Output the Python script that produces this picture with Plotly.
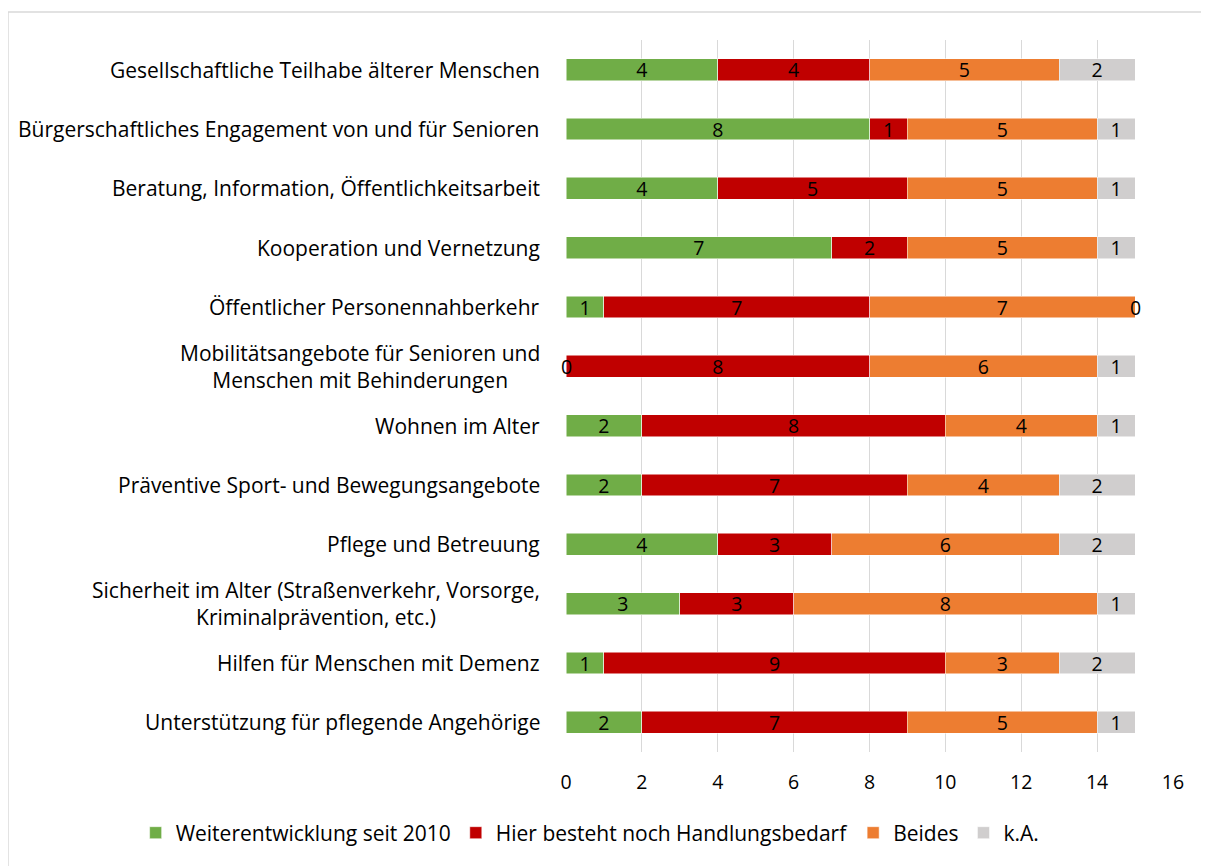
import plotly.graph_objects as go

categories = [
    "Gesellschaftliche Teilhabe älterer Menschen",
    "Bürgerschaftliches Engagement von und für Senioren",
    "Beratung, Information, Öffentlichkeitsarbeit",
    "Kooperation und Vernetzung",
    "Öffentlicher Personennahberkehr",
    "Mobilitätsangebote für Senioren und<br>Menschen mit Behinderungen",
    "Wohnen im Alter",
    "Präventive Sport- und Bewegungsangebote",
    "Pflege und Betreuung",
    "Sicherheit im Alter (Straßenverkehr, Vorsorge,<br>Kriminalprävention, etc.)",
    "Hilfen für Menschen mit Demenz",
    "Unterstützung für pflegende Angehörige",
]
weiterentwicklung = [4, 8, 4, 7, 1, 0, 2, 2, 4, 3, 1, 2]
handlungsbedarf = [4, 1, 5, 2, 7, 8, 8, 7, 3, 3, 9, 7]
beides = [5, 5, 5, 5, 7, 6, 4, 4, 6, 8, 3, 5]
ka = [2, 1, 1, 1, 0, 1, 1, 2, 2, 1, 2, 1]

series = [
    ("Weiterentwicklung seit 2010", weiterentwicklung, "#70ad47"),
    ("Hier besteht noch Handlungsbedarf", handlungsbedarf, "#c00000"),
    ("Beides", beides, "#ed7d31"),
    ("k.A.", ka, "#d0cece"),
]

FONT = "Open Sans"
FS_NUM = 19.5
FS_TXT = 21

ykeys = list(range(len(categories)))

fig = go.Figure()
for name, vals, color in series:
    fig.add_trace(go.Bar(
        y=ykeys, x=vals, name=name, orientation="h",
        marker=dict(color=color, line=dict(color="white", width=0.5)),
        text=[str(v) if v else "" for v in vals],
        textposition="inside", insidetextanchor="middle",
        textangle=0, constraintext="none",
        insidetextfont=dict(color="black", size=FS_NUM, family=FONT),
    ))

annotations = []
# zero-value labels placed at segment position
cum = [0] * len(categories)
for name, vals, color in series:
    for i, v in enumerate(vals):
        if v == 0:
            annotations.append(dict(x=cum[i], y=ykeys[i], xref="x", yref="y",
                                    text="0", showarrow=False,
                                    font=dict(color="black", size=FS_NUM, family=FONT)))
        cum[i] += v

# category labels (centered multi-line)
for i, c in enumerate(categories):
    annotations.append(dict(x=0, y=ykeys[i], xref="paper", yref="y",
                            xshift=-24, xanchor="right", align="center",
                            text=c, showarrow=False,
                            font=dict(color="black", size=FS_TXT, family=FONT)))

fig.update_layout(
    barmode="stack",
    bargap=0.63,
    width=1201, height=858,
    margin=dict(l=558, r=36, t=32, b=114, autoexpand=False),
    paper_bgcolor="white", plot_bgcolor="white",
    font=dict(family=FONT, size=FS_TXT, color="black"),
    xaxis=dict(range=[0, 16], dtick=2, tick0=0, showgrid=True,
               gridcolor="#d9d9d9", gridwidth=1, zeroline=False,
               showline=False, ticks="", ticklabelstandoff=16,
               tickfont=dict(size=FS_NUM, family=FONT, color="black")),
    yaxis=dict(autorange="reversed", showticklabels=False, showgrid=False,
               zeroline=False, showline=False),
    legend=dict(orientation="h", xref="paper", yref="paper",
                x=-0.709, y=-0.1138, xanchor="left", yanchor="middle",
                font=dict(size=FS_TXT, family=FONT, color="black"),
                itemclick=False, traceorder="normal"),
    showlegend=True,
    annotations=annotations,
    shapes=[dict(type="rect", xref="paper", yref="paper",
                 x0=-0.9193, x1=1.2, y0=-0.3, y1=1.0393,
                 line=dict(color="#d9d9d9", width=1.5), layer="below")],
)

fig.write_html("out.html")
